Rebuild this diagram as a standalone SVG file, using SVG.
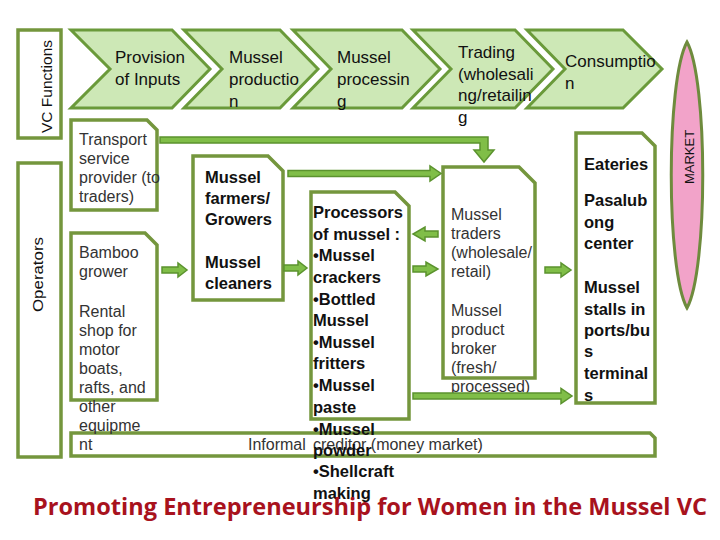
<svg xmlns="http://www.w3.org/2000/svg" width="720" height="540" viewBox="0 0 720 540">
<style>
.chev{fill:#CDE8B6;stroke:#6A9A3A;stroke-width:3;stroke-linejoin:miter}
.box{fill:#FFFFFF;stroke:#74963D;stroke-width:3.5}
.side{fill:#FFFFFF;stroke:#74963D;stroke-width:3.5}
.ct{font-family:"Liberation Sans",Arial,sans-serif;font-size:17px;fill:#111}
.rt{font-family:"Liberation Sans",Arial,sans-serif;font-size:16px;fill:#333}
.bt{font-family:"Liberation Sans",Arial,sans-serif;font-size:16.5px;font-weight:bold;fill:#111}
.arr{fill:#80BE48;stroke:#5B932E;stroke-width:1.5;stroke-linejoin:miter}
.title{font-family:"Open Sans","Noto Sans",sans-serif;font-size:24px;font-weight:bold;fill:#A8121D}
</style>
<rect width="720" height="540" fill="#FFFFFF"/>

<g id="vc-functions">
<rect class="side" x="18" y="30" width="43" height="108"/>
<text font-family="'Liberation Sans',Arial,sans-serif" font-size="14.5" fill="#111" transform="translate(52,86.5) rotate(-90)" text-anchor="middle" textLength="93" lengthAdjust="spacingAndGlyphs">VC Functions</text>
</g>
<g id="operators">
<rect class="side" x="18" y="163" width="43" height="294"/>
<text font-family="'Liberation Sans',Arial,sans-serif" font-size="15" fill="#111" transform="translate(43,274.5) rotate(-90)" text-anchor="middle" textLength="75" lengthAdjust="spacingAndGlyphs">Operators</text>
</g>

<g id="chev-inputs">
<polygon class="chev" points="71,30 172,30 210,69 172,108 71,108 110,69"/>
<text class="ct" x="115" y="63">Provision</text>
<text class="ct" x="115" y="85">of Inputs</text>
</g>
<g id="chev-production">
<polygon class="chev" points="184,30 280,30 318,69 280,108 184,108 222,69"/>
<text class="ct" x="229" y="63">Mussel</text>
<text class="ct" x="229" y="85">productio</text>
<text class="ct" x="229" y="107">n</text>
</g>
<g id="chev-processing">
<polygon class="chev" points="293,30 402,30 440,69 402,108 293,108 331,69"/>
<text class="ct" x="337" y="63">Mussel</text>
<text class="ct" x="337" y="85">processin</text>
<text class="ct" x="337" y="107">g</text>
</g>
<g id="chev-trading">
<polygon class="chev" points="413,30 515,30 553,69 515,108 413,108 451,69"/>
<text class="ct" x="458" y="58">Trading</text>
<text class="ct" x="458" y="79.5">(wholesali</text>
<text class="ct" x="458" y="101">ng/retailin</text>
<text class="ct" x="458" y="122.5">g</text>
</g>
<g id="chev-consumption">
<polygon class="chev" points="527,30 623,30 662,69 623,108 527,108 565,69"/>
<text class="ct" x="565" y="67">Consumptio</text>
<text class="ct" x="565" y="89">n</text>
</g>

<g id="market">
<path d="M687,42 C708,80 708,270 687,308 C666,270 666,80 687,42 Z" fill="#F2A3C9" stroke="#6E8B3D" stroke-width="3"/>
<text font-family="'Liberation Sans',Arial,sans-serif" font-size="13" fill="#111" transform="translate(694,157) rotate(-90)" text-anchor="middle">MARKET</text>
</g>

<g id="informal">
<path class="box" d="M71,433 H650 L655,438 V456 H71 Z"/>
<text class="rt" x="248" y="450">Informal</text>
<text class="rt" x="313" y="450">creditor (money market)</text>
</g>

<g id="transport">
<path class="box" d="M71,120 H147 L157,130 V210 H71 Z"/>
<text class="rt" x="79" y="145">Transport</text>
<text class="rt" x="79" y="164">service</text>
<text class="rt" x="79" y="183">provider (to</text>
<text class="rt" x="79" y="202">traders)</text>
</g>

<g id="bamboo-rental">
<path class="box" d="M71,233 H145 L157,245 V400 H71 Z"/>
<text class="rt" x="79" y="258">Bamboo</text>
<text class="rt" x="79" y="277">grower</text>
<text class="rt" x="79" y="317">Rental</text>
<text class="rt" x="79" y="336">shop for</text>
<text class="rt" x="79" y="355">motor</text>
<text class="rt" x="79" y="374">boats,</text>
<text class="rt" x="79" y="393">rafts, and</text>
<text class="rt" x="79" y="412">other</text>
<text class="rt" x="79" y="431">equipme</text>
<text class="rt" x="79" y="450">nt</text>
</g>

<g id="farmers">
<path class="box" d="M193,156 H268 L283,171 V300 H193 Z"/>
<text class="bt" x="205" y="183">Mussel</text>
<text class="bt" x="205" y="204">farmers/</text>
<text class="bt" x="205" y="225">Growers</text>
<text class="bt" x="205" y="268">Mussel</text>
<text class="bt" x="205" y="289">cleaners</text>
</g>

<g id="processors">
<path class="box" d="M311,192 H395 L409,206 V419 H311 Z"/>
<text class="bt" x="313" y="218">Processors</text>
<text class="bt" x="313" y="240">of mussel :</text>
<text class="bt" x="313" y="261">•Mussel</text>
<text class="bt" x="313" y="283">crackers</text>
<text class="bt" x="313" y="305">•Bottled</text>
<text class="bt" x="313" y="326">Mussel</text>
<text class="bt" x="313" y="348">•Mussel</text>
<text class="bt" x="313" y="369">fritters</text>
<text class="bt" x="313" y="391">•Mussel</text>
<text class="bt" x="313" y="413">paste</text>
<text class="bt" x="313" y="435">•Mussel</text>
<text class="bt" x="313" y="456">powder</text>
<text class="bt" x="313" y="477">•Shellcraft</text>
<text class="bt" x="313" y="499">making</text>
</g>

<g id="traders">
<path class="box" d="M443,167 H519 L535,183 V378 H443 Z"/>
<text class="rt" x="451" y="220">Mussel</text>
<text class="rt" x="451" y="239">traders</text>
<text class="rt" x="451" y="258">(wholesale/</text>
<text class="rt" x="451" y="277">retail)</text>
<text class="rt" x="451" y="316">Mussel</text>
<text class="rt" x="451" y="335">product</text>
<text class="rt" x="451" y="354">broker</text>
<text class="rt" x="451" y="373">(fresh/</text>
<text class="rt" x="451" y="392">processed)</text>
</g>

<g id="market-outlets">
<path class="box" d="M576,133 H642 L655,146 V403 H576 Z"/>
<text class="bt" x="584" y="170">Eateries</text>
<text class="bt" x="584" y="206">Pasalub</text>
<text class="bt" x="584" y="228">ong</text>
<text class="bt" x="584" y="249">center</text>
<text class="bt" x="584" y="293">Mussel</text>
<text class="bt" x="584" y="315">stalls in</text>
<text class="bt" x="584" y="336">ports/bu</text>
<text class="bt" x="584" y="357">s</text>
<text class="bt" x="584" y="379">terminal</text>
<text class="bt" x="584" y="401">s</text>
</g>

<g id="connectors">
<polygon class="arr" points="160,137 488,137 488,150 494,150 484,162 474,150 480,150 480,143 160,143"/>
<polygon class="arr" points="288,170.5 430,170.5 430,166 441,173.5 430,181 430,176.5 288,176.5"/>
<polygon class="arr" points="162,267 178,267 178,263 187,270 178,277 178,273 162,273"/>
<polygon class="arr" points="284,265 298,265 298,261 307,268 298,275 298,271 284,271"/>
<polygon class="arr" points="438,231 425,231 425,227 413,234 425,241 425,237 438,237"/>
<polygon class="arr" points="413,266 426,266 426,262 438,269 426,276 426,272 413,272"/>
<polygon class="arr" points="545,267 561,267 561,263 571,270 561,277 561,273 545,273"/>
<polygon class="arr" points="413,393 561,393 561,388.5 572,396 561,403.5 561,399 413,399"/>
</g>

<text class="title" x="33" y="515" textLength="674" lengthAdjust="spacingAndGlyphs">Promoting Entrepreneurship for Women in the Mussel VC</text>
</svg>
